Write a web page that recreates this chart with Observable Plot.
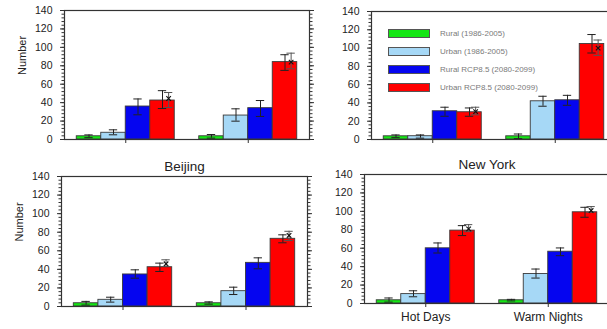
<!DOCTYPE html>
<html><head><meta charset="utf-8">
<script src="https://cdn.jsdelivr.net/npm/d3@7"></script>
<script src="https://cdn.jsdelivr.net/npm/@observablehq/plot@0.6"></script>
<style>
html,body{margin:0;padding:0;background:#fff;}
#chart{position:relative;width:607px;height:329px;overflow:hidden;font-family:"Liberation Sans",Arial,sans-serif;background:#fff;}
#chart svg{position:absolute;overflow:visible;}
#legend{position:absolute;left:388px;top:24px;font-size:8px;color:#7a7a7a;}
#legend .row{display:flex;align-items:center;height:18px;}
#legend .sw{width:40px;height:7px;border:1px solid #555;margin-right:10px;box-sizing:content-box;}
</style></head>
<body><div id="chart"><div id="legend"></div></div>
<script>
// ---------- data ----------
const categories = ["Hot Days", "Warm Nights"];
const series = ["Rural (1986-2005)", "Urban (1986-2005)", "Rural RCP8.5 (2080-2099)", "Urban RCP8.5 (2080-2099)"];
const seriesColors = ["#14e614", "#a6d8f6", "#0505f0", "#ff0000"];
const yTicks = [0, 20, 40, 60, 80, 100, 120, 140];

// order: Hot Days (4 series), Warm Nights (4 series)
const beijingUpperValues = [3.5, 7.3, 35.8, 42.3, 3.5, 26, 34, 84];
const beijingUpperLow    = [2, 5.1, 26.8, 33.6, 1.5, 19.9, 25, 75];
const beijingUpperHigh   = [5, 10.5, 44, 53, 5.4, 33.3, 42.3, 92];
const beijingUpperExtra     = [44.5, 84];   // second Urban RCP8.5 estimate
const beijingUpperExtraLow  = [34.7, 76.7];
const beijingUpperExtraHigh = [51, 93.7];

const newYorkUpperValues = [3.5, 3.6, 30.9, 29.8, 3.5, 41.8, 42.9, 104.4];
const newYorkUpperLow    = [2, 1.5, 25.4, 25.4, 1, 36.4, 37.4, 94.6];
const newYorkUpperHigh   = [5, 5, 35.3, 34.5, 6, 47.3, 48.3, 114.8];
const newYorkUpperExtra     = [30.5, 100];
const newYorkUpperExtraLow  = [27, 92];
const newYorkUpperExtraHigh = [35.3, 108.8];

const beijingLowerValues = [3.5, 7.2, 34.5, 42.3, 3.5, 16.5, 47, 72.9];
const beijingLowerLow    = [1.5, 4.7, 30.5, 37.7, 2.5, 12.9, 40.6, 68.6];
const beijingLowerHigh   = [5.5, 10, 39.5, 46.7, 5, 20.8, 52.4, 77.2];
const beijingLowerExtra     = [46, 76.5];
const beijingLowerExtraLow  = [43, 71];
const beijingLowerExtraHigh = [50.3, 81];

const newYorkLowerValues = [3.5, 10.2, 59.9, 79.1, 3.5, 32, 56.2, 99];
const newYorkLowerLow    = [1.5, 7.3, 54.8, 73.7, 2.8, 27.6, 51.9, 93.6];
const newYorkLowerHigh   = [6, 13.8, 65.7, 84.5, 4.5, 37.4, 60.3, 104.4];
const newYorkLowerExtra     = [81, 100.9];
const newYorkLowerExtraLow  = [78, 99];
const newYorkLowerExtraHigh = [85.6, 105.2];

// ---------- drawing ----------
const chart = document.getElementById("chart");
const M = {left: 50, top: 22, right: 14, bottom: 26};

function panel(cfg) {
  const bars = [];
  cfg.values.forEach((v, k) => {
    const g = Math.floor(k / 4), s = k % 4, slot = g * 5 + s;
    bars.push({cat: categories[g], s, x1: slot, x2: slot + 1, xc: slot + 0.5,
               value: v, low: cfg.low[k], high: cfg.high[k]});
  });
  const extra = cfg.extra.map((v, g) => ({xc: g * 5 + 3 + 0.75, value: v,
               low: cfg.extraLow[g], high: cfg.extraHigh[g]}));
  const groupCenters = categories.map((c, g) => g * 5 + 2);
  const catAt = new Map(groupCenters.map((x, g) => [x, categories[g]]));
  const cap = 0.17;

  const marks = [
    Plot.rectY(bars, {x1: "x1", x2: "x2", y1: 0, y2: "value",
      fill: d => seriesColors[d.s], stroke: "#3a3a3a", strokeWidth: 0.9}),
    Plot.ruleX(bars, {x: "xc", y1: "low", y2: "high", stroke: "#222", strokeWidth: 1}),
    Plot.ruleY(bars, {y: "low", x1: d => d.xc - cap, x2: d => d.xc + cap, stroke: "#222"}),
    Plot.ruleY(bars, {y: "high", x1: d => d.xc - cap, x2: d => d.xc + cap, stroke: "#222"}),
    Plot.ruleX(extra, {x: "xc", y1: "low", y2: "high", stroke: "#555"}),
    Plot.ruleY(extra, {y: "low", x1: d => d.xc - cap, x2: d => d.xc + cap, stroke: "#555"}),
    Plot.ruleY(extra, {y: "high", x1: d => d.xc - cap, x2: d => d.xc + cap, stroke: "#555"}),
    Plot.dot(extra, {x: "xc", y: "value", symbol: "times", r: 2.2, stroke: "#111", strokeWidth: 1.1}),
    Plot.frame({stroke: "#333", strokeWidth: 1.2}),
    Plot.axisY({anchor: "left", ticks: yTicks, tickSize: 4, tickPadding: 8, label: null, stroke: "#333"}),
    Plot.axisY({anchor: "left", ticks: d3.range(0, 141, 4), tickSize: 2.5, tickFormat: () => "", label: null, stroke: "#333"}),
    Plot.axisY({anchor: "right", ticks: yTicks, tickSize: 4, tickFormat: () => "", label: null, stroke: "#333"}),
    Plot.axisY({anchor: "right", ticks: d3.range(0, 141, 4), tickSize: 2.5, tickFormat: () => "", label: null, stroke: "#333"}),
    Plot.axisX({anchor: "bottom", ticks: groupCenters, tickSize: 4, tickPadding: 5,
      tickFormat: cfg.xLabels ? (d => catAt.get(d)) : (() => ""), label: null, stroke: "#333", fontSize: 12})
  ];
  if (cfg.yLabel) marks.push(Plot.text([cfg.yLabel], {frameAnchor: "left", rotate: -90, dx: -42, fontSize: 11, fill: "#222"}));
  if (cfg.title) marks.push(Plot.text([cfg.title], {frameAnchor: "top", dy: -15, fontSize: 13.5, fill: "#222"}));

  const svg = Plot.plot({
    width: M.left + cfg.w + M.right,
    height: M.top + cfg.h + M.bottom,
    marginLeft: M.left, marginRight: M.right, marginTop: M.top, marginBottom: M.bottom,
    x: {domain: [-0.5, 9.5], label: null},
    y: {domain: [0, 140], label: null},
    style: {background: "transparent", fontSize: "10.5px", fontFamily: "Liberation Sans, Arial, sans-serif",
            color: "#222", overflow: "visible", maxWidth: "none"},
    marks
  });
  svg.style.left = (cfg.left - M.left) + "px";
  svg.style.top = (cfg.top - M.top) + "px";
  chart.insertBefore(svg, document.getElementById("legend"));
}

panel({values: beijingUpperValues, low: beijingUpperLow, high: beijingUpperHigh,
  extra: beijingUpperExtra, extraLow: beijingUpperExtraLow, extraHigh: beijingUpperExtraHigh,
  left: 64, top: 10, w: 245, h: 129, yLabel: "Number"});
panel({values: newYorkUpperValues, low: newYorkUpperLow, high: newYorkUpperHigh,
  extra: newYorkUpperExtra, extraLow: newYorkUpperExtraLow, extraHigh: newYorkUpperExtraHigh,
  left: 371, top: 11, w: 245, h: 128});
panel({values: beijingLowerValues, low: beijingLowerLow, high: beijingLowerHigh,
  extra: beijingLowerExtra, extraLow: beijingLowerExtraLow, extraHigh: beijingLowerExtraHigh,
  left: 61, top: 176, w: 246, h: 130, yLabel: "Number", title: "Beijing"});
panel({values: newYorkLowerValues, low: newYorkLowerLow, high: newYorkLowerHigh,
  extra: newYorkLowerExtra, extraLow: newYorkLowerExtraLow, extraHigh: newYorkLowerExtraHigh,
  left: 364, top: 174, w: 245, h: 129, title: "New York", xLabels: true});

// legend
const legend = document.getElementById("legend");
series.forEach((name, i) => {
  const row = document.createElement("div");
  row.className = "row";
  const sw = document.createElement("div");
  sw.className = "sw";
  sw.style.background = seriesColors[i];
  const label = document.createElement("span");
  label.textContent = name;
  row.append(sw, label);
  legend.append(row);
});
</script>
</body></html>
